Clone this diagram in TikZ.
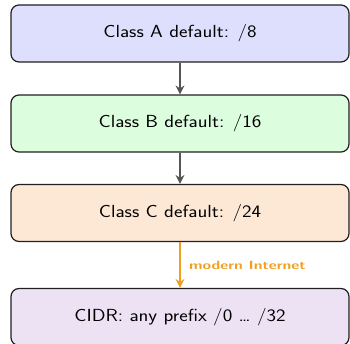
\documentclass[tikz,border=0pt]{standalone}
\usepackage{fontspec}
\usepackage{graphicx}
\setsansfont{Latin Modern Sans}
\usetikzlibrary{arrows.meta,positioning}
\definecolor{fillA}{HTML}{DDDFFD}
\definecolor{fillB}{HTML}{DDFDDF}
\definecolor{fillC}{HTML}{FDE8D6}
\definecolor{fillD}{HTML}{EDE2F4}
\definecolor{edgegray}{HTML}{202020}
\definecolor{arrowgray}{HTML}{555555}
\definecolor{modernorange}{HTML}{F0A020}
% horizontally widened text
\newcommand\boxtext[1]{\scalebox{1.16}[1]{#1}}
\newcommand\flowtext[1]{\scalebox{1.3}[1]{#1}}
\tikzset{
  x=1pt, y=1pt,
  prefixbox/.style={draw=edgegray, line width=1.2pt, rounded corners=8pt,
    minimum width=338pt, minimum height=57pt, inner sep=0pt,
    font=\sffamily\fontsize{17.5}{20}\selectfont},
  flow/.style={draw=arrowgray, line width=1.4pt, -{Stealth[length=9pt,width=9pt,inset=3pt]}},
  modernflow/.style={draw=modernorange, line width=1.4pt, -{Stealth[length=9pt,width=9pt,inset=3pt]}},
  flowlabel/.style={right, xshift=5pt, text=modernorange,
    font=\sffamily\bfseries\fontsize{12}{14}\selectfont},
}
\begin{document}
\begin{tikzpicture}
\useasboundingbox (0,0) rectangle (350,344);
\node[prefixbox, fill=fillA] (a) at (180,310.5) {\boxtext{Class A default: /8}};
\node[prefixbox, fill=fillB] (b) at (180,220.5) {\boxtext{Class B default: /16}};
\node[prefixbox, fill=fillC] (c) at (180,131) {\boxtext{Class C default: /24}};
\node[prefixbox, fill=fillD] (d) at (180,27) {\boxtext{CIDR: any prefix /0 \dots\ /32}};
\draw[flow] (a) -- (b);
\draw[flow] (b) -- (c);
\draw[modernflow] (c) -- node[flowlabel] {\flowtext{modern Internet}} (d);
\end{tikzpicture}
\end{document}
